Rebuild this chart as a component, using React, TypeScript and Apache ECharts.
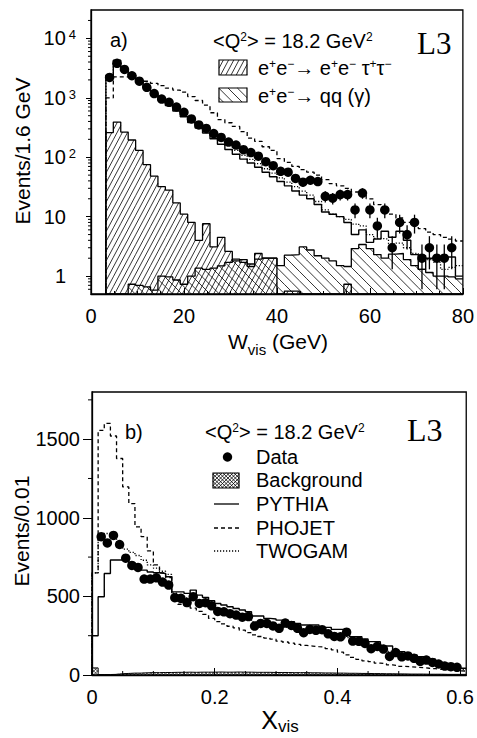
import React, { useEffect, useRef } from "react";
import * as echarts from "echarts";

const FONT = '"Liberation Sans", Arial, Helvetica, sans-serif';
const SERIF = '"Liberation Serif", "Times New Roman", serif';

// ---------------- panel a) : W_vis (log scale) ----------------
const wBinStart = 3.2;
const wBinWidth = 1.6;
const wLogBase = 0.5; // bottom of the log axis
const wData = [2200, 3800, 3000, 2350, 1900, 1500, 1180, 950, 840, 700, 570, 440, 350, 305, 250, 215, 180, 160, 134, 120, 104, 84, 72, 58, 56, 44, 38, 41, 39, 22, 20.5, 23.5, 23.5, 13, 25, 13, 7, 13, 3, 8, 5, 8, 2, 3, 2, 2, 3];
const wDataErr = [47, 62, 55, 48, 44, 39, 34, 31, 29, 26, 24, 21, 19, 17, 16, 15, 13, 13, 12, 11, 10, 9, 8.5, 7.6, 7.5, 6.6, 6.2, 6.4, 6.2, 4.7, 4.5, 4.8, 4.8, 3.6, 5, 3.6, 2.6, 3.6, 1.7, 2.8, 2.2, 2.8, 1.4, 1.7, 1.4, 1.4, 1.7];
const wPythia = [2400, 4300, 3100, 2400, 1900, 1480, 1150, 920, 740, 600, 480, 385, 310, 255, 205, 165, 135, 112, 93, 80, 68, 56, 47, 39, 33, 27, 23, 20, 16, 12, 11, 10, 8, 5, 6, 3.7, 4.2, 5.7, 4.5, 5.7, 4, 2.3, 1.3, 2, 2.1, 2.1, 2.1, 1];
const wPhojet = [1000, 2250, 2250, 2200, 2050, 1900, 1750, 1600, 1450, 1350, 1250, 1050, 900, 750, 560, 430, 380, 330, 270, 210, 185, 150, 130, 95, 82, 70, 62, 56, 50, 42, 36, 33, 30, 26, 25, 20, 16, 14, 11, 9.5, 8, 7.5, 6.3, 5.5, 5, 4.5, 4.2, 3.9];
const wTwogam = [2300, 4100, 3050, 2400, 1920, 1520, 1190, 960, 780, 640, 520, 420, 345, 285, 230, 190, 158, 130, 108, 92, 78, 64, 54, 45, 38, 32, 27, 23, 18, 13, 11, 10, 9, 7.5, 7, 5, 4.3, 4.2, 3.5, 3.6, 3, 2.4, 2.2, 1.9, 1.7, 1.3, 1.4, 1.5];
const wTauTau = [260, 390, 265, 195, 130, 75, 48, 32, 28, 17, 11, 8, 4, 7.6, 3.1, 4.5, 2.6, 1.8, 1.9, 1.6, 2.4, 2.0, 2.0, 0, 0.56, 0.56, 0, 0, 0, 0, 0, 0, 0.73, 0, 0, 0, 0, 0, 0, 0, 0, 0, 0, 0, 0, 0, 0, 0];
const wQQ = [0, 0, 0, 0.73, 0.7, 0.66, 0.58, 1.0, 0.97, 0.86, 0.73, 1.0, 1.36, 1.3, 1.36, 1.49, 1.7, 1.93, 1.7, 1.45, 1.93, 2.0, 2.0, 1.5, 2.25, 2.3, 3.1, 2.75, 2.2, 2.0, 1.8, 1.5, 1.45, 2.9, 3.4, 2.9, 2.3, 2.0, 2.35, 2.4, 1.9, 1.5, 1.3, 1.15, 1.0, 1.0, 0.97, 0.9];
const wLogTicks = [1, 10, 100, 1000, 10000];
const wLogMinorTicks = [0.6, 0.7, 0.8, 0.9, 2, 3, 4, 5, 6, 7, 8, 9, 20, 30, 40, 50, 60, 70, 80, 90, 200, 300, 400, 500, 600, 700, 800, 900, 2000, 3000, 4000, 5000, 6000, 7000, 8000, 9000, 20000];

// ---------------- panel b) : x_vis (linear scale) ----------------
const xBinWidth = 0.01;
const xData = [null, 880, 840, 888, 830, 743, 697, 684, 610, 610, 618, 591, 572, 492, 488, 461, 498, 455, 460, 440, 404, 402, 390, 381, 368, 372, 311, 328, 328, 312, 297, 330, 315, 297, 269, 290, 284, 288, 262, 245, 243, 272, 216, 214, 201, 167, 182, 165, 118, 143, 116, 121, 106, 87, 95, 80, 70, 57, 53, 49, null];
const xPythia = [250, 498, 646, 731, 731, 731, 714, 690, 667, 655, 650, 646, 625, 529, 529, 519, 540, 508, 494, 472, 455, 445, 434, 423, 413, 402, 375, 375, 360, 356, 349, 349, 339, 328, 318, 318, 318, 303, 303, 290, 290, 286, 243, 243, 229, 212, 212, 184, 184, 159, 148, 138, 127, 116, 112, 100, 85, 74, 64, 57, 43];
const xPhojet = [650, 1556, 1600, 1520, 1377, 1196, 1090, 942, 880, 790, 700, 650, 620, 470, 450, 440, 425, 405, 385, 360, 340, 325, 310, 300, 285, 270, 255, 245, 235, 228, 215, 210, 203, 195, 188, 184, 180, 178, 168, 160, 145, 128, 112, 100, 90, 85, 76, 72, 64, 60, 55, 52, 49, 47, 43, 40, 36, 34, 30, 27, 25];
const xTwogam = [650, 880, 900, 880, 840, 800, 780, 760, 730, 700, 680, 660, 640, 520, 505, 490, 480, 465, 450, 435, 420, 405, 390, 378, 366, 355, 340, 332, 325, 318, 310, 305, 300, 294, 288, 282, 276, 270, 262, 254, 246, 238, 225, 212, 200, 188, 176, 164, 150, 138, 126, 114, 103, 92, 82, 72, 63, 55, 48, 42, 36];
const xBackground = [45, 3, 3, 4, 8, 10, 12, 12, 14, 15, 15, 16, 16, 17, 17, 18, 17, 18, 18, 18, 19, 18, 18, 19, 18, 18, 17, 17, 17, 16, 16, 16, 15, 15, 15, 14, 14, 13, 13, 12, 12, 11, 11, 10, 10, 9, 9, 8, 8, 7, 7, 6, 6, 6, 5, 5, 5, 4, 4, 4, 4];
const xTicks = [0, 0.2, 0.4, 0.6];
const xMinorTicks = [0.05, 0.1, 0.15, 0.25, 0.3, 0.35, 0.45, 0.5, 0.55];
const yTicksB = [0, 500, 1000, 1500];
const yMinorTicksB = [250, 750, 1250, 1750];

// ---------------- helpers ----------------
type Seg = [number, number, number, number];

function hatch(x1: number, y1: number, x2: number, y2: number, angleDeg: number, s: number): Seg[] {
  const a = (angleDeg * Math.PI) / 180;
  const dx = Math.cos(a);
  const dy = -Math.sin(a);
  const nx = -dy;
  const ny = dx;
  const cs = [[x1, y1], [x2, y1], [x1, y2], [x2, y2]];
  let mn = Infinity, mx = -Infinity;
  cs.forEach(([cx, cy]) => {
    const p = cx * nx + cy * ny;
    mn = Math.min(mn, p);
    mx = Math.max(mx, p);
  });
  const out: Seg[] = [];
  for (let k = Math.ceil(mn / s); k * s <= mx; k++) {
    const c = k * s;
    const px = nx * c, py = ny * c;
    let t0 = -1e7, t1 = 1e7;
    const P = [-dx, dx, -dy, dy];
    const Q = [px - x1, x2 - px, py - y1, y2 - py];
    let ok = true;
    for (let j = 0; j < 4; j++) {
      if (Math.abs(P[j]) < 1e-12) {
        if (Q[j] < 0) { ok = false; break; }
      } else {
        const t = Q[j] / P[j];
        if (P[j] < 0) t0 = Math.max(t0, t); else t1 = Math.min(t1, t);
      }
    }
    if (ok && t0 < t1) out.push([px + t0 * dx, py + t0 * dy, px + t1 * dx, py + t1 * dy]);
  }
  return out;
}

function edgesOf(start: number, width: number, n: number) {
  return Array.from({ length: n + 1 }, (_, i) => +(start + i * width).toFixed(4));
}

function stepData(edges: number[], values: number[], base: number) {
  const pts: number[][] = [[edges[0], base]];
  values.forEach((v, i) => pts.push([edges[i], v > base ? v : base]));
  const last = values[values.length - 1];
  pts.push([edges[values.length], last > base ? last : base]);
  return pts;
}

function stepSeries(name: string, gi: number, edges: number[], values: number[], base: number, type: any, width: number) {
  return {
    type: "line", name, xAxisIndex: gi, yAxisIndex: gi, step: "end", symbol: "none", silent: true, z: 3,
    data: stepData(edges, values, base),
    lineStyle: { color: "#000", width, type, opacity: 1 },
  };
}

function hatchSeries(name: string, gi: number, edges: number[], values: number[], base: number, angles: number[], spacing: number, lw: number) {
  return {
    type: "custom", name, xAxisIndex: gi, yAxisIndex: gi, silent: true, z: 1,
    encode: { x: [0, 1], y: 2 },
    data: values.map((v, i) => [edges[i], edges[i + 1], v]),
    renderItem: (params: any, api: any) => {
      const lo = api.value(0), hi = api.value(1), v = api.value(2);
      if (!(v > base)) return null;
      const p1 = api.coord([lo, v]);
      const p2 = api.coord([hi, base]);
      const c = params.coordSys;
      const x1 = Math.max(Math.min(p1[0], p2[0]), c.x);
      const x2 = Math.min(Math.max(p1[0], p2[0]), c.x + c.width);
      const y1 = Math.max(Math.min(p1[1], p2[1]), c.y);
      const y2 = Math.min(Math.max(p1[1], p2[1]), c.y + c.height);
      const children: any[] = [];
      angles.forEach((ang) => {
        hatch(x1, y1, x2, y2, ang, spacing).forEach((sg) =>
          children.push({ type: "line", shape: { x1: sg[0], y1: sg[1], x2: sg[2], y2: sg[3] }, style: { stroke: "#000", lineWidth: lw } })
        );
      });
      return { type: "group", children };
    },
  };
}

function yMinorSeries(gi: number, xAt: number, values: number[], len: number) {
  return {
    type: "custom", xAxisIndex: gi, yAxisIndex: gi, silent: true, clip: false, z: 5,
    encode: { x: 0, y: 1 },
    data: values.map((v) => [xAt, v]),
    renderItem: (_p: any, api: any) => {
      const c = api.coord([api.value(0), api.value(1)]);
      return { type: "line", shape: { x1: c[0] - len, y1: c[1], x2: c[0], y2: c[1] }, style: { stroke: "#000", lineWidth: 1 } };
    },
  };
}

function xMinorSeries(gi: number, yAt: number, values: number[], len: number) {
  return {
    type: "custom", xAxisIndex: gi, yAxisIndex: gi, silent: true, clip: false, z: 5,
    encode: { x: 0, y: 1 },
    data: values.map((v) => [v, yAt]),
    renderItem: (_p: any, api: any) => {
      const c = api.coord([api.value(0), api.value(1)]);
      return { type: "line", shape: { x1: c[0], y1: c[1], x2: c[0], y2: c[1] - len }, style: { stroke: "#000", lineWidth: 1 } };
    },
  };
}

const richZ = (size: number, sup: number, subPad: number) => ({
  n: { fontSize: size, fontFamily: FONT, fill: "#000", verticalAlign: "top" },
  s: { fontSize: sup, fontFamily: FONT, fill: "#000", verticalAlign: "top" },
  b: { fontSize: sup + 2, fontFamily: FONT, fill: "#000", verticalAlign: "top", padding: [subPad, 0, 0, 0] },
});

function txt(text: string, x: number, y: number, rich: any, extra: any = {}) {
  return {
    type: "text", x, y, silent: true, z: 10,
    style: { text, rich, fill: "#000", fontFamily: FONT, align: "left", verticalAlign: "middle", ...extra },
  };
}

function hatchBox(x: number, y: number, w: number, h: number, angles: number[], s: number) {
  const children: any[] = [];
  angles.forEach((a) =>
    hatch(x, y, x + w, y + h, a, s).forEach((sg) =>
      children.push({ type: "line", shape: { x1: sg[0], y1: sg[1], x2: sg[2], y2: sg[3] }, style: { stroke: "#000", lineWidth: 0.8 } })
    )
  );
  children.push({ type: "rect", shape: { x, y, width: w, height: h }, style: { fill: "none", stroke: "#000", lineWidth: 1.2 } });
  return { type: "group", silent: true, z: 10, children };
}

function buildOption() {
  const wEdges = edgesOf(wBinStart, wBinWidth, wPythia.length);
  const xEdges = edgesOf(0, xBinWidth, xPythia.length);
  const lab = { fontFamily: FONT, fontSize: 20, color: "#000" };
  const axisRich = {
    n: { fontFamily: FONT, fontSize: 20, color: "#000", verticalAlign: "top" },
    s: { fontFamily: FONT, fontSize: 13, color: "#000", verticalAlign: "top", padding: [0, 0, 0, 3] },
    w: { fontFamily: FONT, fontSize: 13, width: 10 },
  };
  const axisLine = { show: true, onZero: false, lineStyle: { color: "#000", width: 1.3 } };
  const tickStyle = { color: "#000", width: 1 };

  const r20 = richZ(20, 12, 11);
  const rTitle = richZ(21, 13, 11);
  const rX = richZ(25, 15, 11);

  return {
    animation: false,
    backgroundColor: "#fff",
    grid: [
      { left: 91, top: 10, width: 374, height: 284, show: true, borderColor: "#000", borderWidth: 1.3, backgroundColor: "transparent" },
      { left: 92, top: 392, width: 375, height: 283, show: true, borderColor: "#000", borderWidth: 1.3, backgroundColor: "transparent" },
    ],
    xAxis: [
      {
        gridIndex: 0, type: "value", min: 0, max: 80, interval: 20,
        axisLine, splitLine: { show: false },
        axisTick: { show: true, inside: true, length: 6, lineStyle: tickStyle },
        minorTick: { show: true, splitNumber: 4, length: 3, lineStyle: tickStyle },
        minorSplitLine: { show: false },
        axisLabel: { ...lab, margin: 12 },
      },
      {
        gridIndex: 1, type: "value", min: 0, max: 0.61, interval: 0.2,
        axisLine, splitLine: { show: false },
        axisTick: { show: true, inside: true, length: 7, lineStyle: tickStyle, customValues: xTicks },
        axisLabel: { ...lab, margin: 12, customValues: xTicks, formatter: (v: number) => String(+(+v).toFixed(2)) },
      },
    ],
    yAxis: [
      {
        gridIndex: 0, type: "log", logBase: 10, min: wLogBase, max: 30000,
        axisLine, splitLine: { show: false },
        axisTick: { show: true, length: 5, lineStyle: tickStyle, customValues: wLogTicks },
        axisLabel: {
          ...lab, margin: 15, customValues: wLogTicks, rich: axisRich,
          formatter: (v: number) => {
            const e = Math.round(Math.log10(v));
            if (Math.abs(Math.log10(v) - e) > 1e-6) return "";
            if (e === 0) return "{n|1}{w| }";
            if (e === 1) return "{n|10}{w| }";
            return "{n|10}{s|" + e + "}";
          },
        },
      },
      {
        gridIndex: 1, type: "value", min: 0, max: 1800, interval: 500,
        axisLine, splitLine: { show: false },
        axisTick: { show: true, length: 9, lineStyle: tickStyle, customValues: yTicksB },
        axisLabel: { ...lab, margin: 12, customValues: yTicksB, formatter: (v: number) => String(Math.round(+v)) },
      },
    ],
    series: [
      // ---- panel a
      hatchSeries("tautau-hatch", 0, wEdges, wTauTau, wLogBase, [62], 4.6, 0.8),
      hatchSeries("qq-hatch", 0, wEdges, wQQ, wLogBase, [-45], 6.6, 0.8),
      stepSeries("e+e- -> e+e- tau+tau-", 0, wEdges, wTauTau, wLogBase, "solid", 1.3),
      stepSeries("e+e- -> qq (gamma)", 0, wEdges, wQQ, wLogBase, "solid", 1.3),
      stepSeries("PYTHIA", 0, wEdges, wPythia, wLogBase, "solid", 1.4),
      stepSeries("PHOJET", 0, wEdges, wPhojet, wLogBase, [4, 3], 1.3),
      stepSeries("TWOGAM", 0, wEdges, wTwogam, wLogBase, [1.2, 1.8], 1.3),
      {
        type: "custom", name: "Data errors", xAxisIndex: 0, yAxisIndex: 0, silent: true, z: 6,
        encode: { x: 0, y: 1 },
        data: wData.map((v, i) => [wBinStart + wBinWidth * (i + 0.5), v, wDataErr[i]]),
        renderItem: (_p: any, api: any) => {
          const x = api.value(0), v = api.value(1), e = api.value(2);
          const a = api.coord([x, Math.max(v - e, wLogBase)]);
          const b = api.coord([x, v + e]);
          return { type: "line", shape: { x1: a[0], y1: a[1], x2: b[0], y2: b[1] }, style: { stroke: "#000", lineWidth: 1.3 } };
        },
      },
      {
        type: "scatter", name: "Data", xAxisIndex: 0, yAxisIndex: 0, symbol: "circle", symbolSize: 9.5, z: 7, silent: true,
        itemStyle: { color: "#000", opacity: 1 },
        data: wData.map((v, i) => [wBinStart + wBinWidth * (i + 0.5), v]),
      },
      yMinorSeries(0, 0, wLogMinorTicks, 3),
      // ---- panel b
      hatchSeries("Background-hatch", 1, xEdges, xBackground, 0, [45, 135], 2.6, 0.7),
      stepSeries("Background", 1, xEdges, xBackground, 0, "solid", 1.0),
      stepSeries("PYTHIA", 1, xEdges, xPythia, 0, "solid", 1.4),
      stepSeries("PHOJET", 1, xEdges, xPhojet, 0, [4, 3], 1.3),
      stepSeries("TWOGAM", 1, xEdges, xTwogam, 0, [1.2, 1.8], 1.3),
      {
        type: "scatter", name: "Data", xAxisIndex: 1, yAxisIndex: 1, symbol: "circle", symbolSize: 9.5, z: 7, silent: true,
        itemStyle: { color: "#000", opacity: 1 },
        data: xData.map((v, k) => (v == null ? null : [xBinWidth * (k + 0.5), v])).filter((d) => d !== null),
      },
      yMinorSeries(1, 0, yMinorTicksB, 4),
      xMinorSeries(1, 0, xMinorTicks, 4),
    ],
    graphic: [
      // panel a texts
      txt("{n|a)}", 110, 40, r20),
      txt("{n|<Q}{s|2}{n|> = 18.2 GeV}{s|2}", 213, 41, r20),
      txt("L3", 417, 43, undefined, { fontFamily: SERIF, fontSize: 31 }),
      hatchBox(219, 60, 28, 15, [62], 4.6),
      txt("{n|e}{s|+}{n|e}{s|−}{n|→ e}{s|+}{n|e}{s|−}{n| τ}{s|+}{n|τ}{s|−}", 258, 68, r20),
      hatchBox(219, 88, 28, 14, [-45], 6.6),
      txt("{n|e}{s|+}{n|e}{s|−}{n|→ qq (γ)}", 258, 96, r20),
      txt("{n|W}{b|vis}{n| (GeV)}", 278, 344, rTitle, { align: "center" }),
      {
        type: "text", x: 22, y: 151, rotation: Math.PI / 2, silent: true,
        style: { text: "Events/1.6 GeV", fontFamily: FONT, fontSize: 21, fill: "#000", align: "center", verticalAlign: "middle" },
      },
      // panel b texts
      txt("{n|b)}", 125, 432, r20),
      txt("{n|<Q}{s|2}{n|> = 18.2 GeV}{s|2}", 205, 432, r20),
      txt("L3", 407, 430, undefined, { fontFamily: SERIF, fontSize: 32 }),
      { type: "circle", shape: { cx: 227.5, cy: 457, r: 4.7 }, style: { fill: "#000" }, silent: true, z: 10 },
      txt("{n|Data}", 256, 457, r20),
      hatchBox(213, 473, 26, 15, [45, 135], 2.6),
      txt("{n|Background}", 256, 480, r20),
      { type: "line", shape: { x1: 214, y1: 504, x2: 239, y2: 504 }, style: { stroke: "#000", lineWidth: 1.3 }, silent: true, z: 10 },
      txt("{n|PYTHIA}", 256, 504, r20),
      { type: "line", shape: { x1: 214, y1: 528, x2: 239, y2: 528 }, style: { stroke: "#000", lineWidth: 1.3, lineDash: [4, 3] }, silent: true, z: 10 },
      txt("{n|PHOJET}", 256, 528, r20),
      { type: "line", shape: { x1: 214, y1: 551, x2: 239, y2: 551 }, style: { stroke: "#000", lineWidth: 1.3, lineDash: [1.2, 1.8] }, silent: true, z: 10 },
      txt("{n|TWOGAM}", 256, 551, r20),
      txt("{n|X}{b|vis}", 280, 721, rX, { align: "center" }),
      {
        type: "text", x: 21, y: 531, rotation: Math.PI / 2, silent: true,
        style: { text: "Events/0.01", fontFamily: FONT, fontSize: 21, fill: "#000", align: "center", verticalAlign: "middle" },
      },
    ],
  };
}

export default function App() {
  const ref = useRef<HTMLDivElement>(null);
  useEffect(() => {
    if (!ref.current) return;
    const chart = echarts.init(ref.current, undefined, { renderer: "svg" });
    chart.setOption(buildOption() as any);
    return () => chart.dispose();
  }, []);
  return <div ref={ref} style={{ position: "fixed", left: 0, top: 0, width: 477, height: 738, background: "#fff" }} />;
}
